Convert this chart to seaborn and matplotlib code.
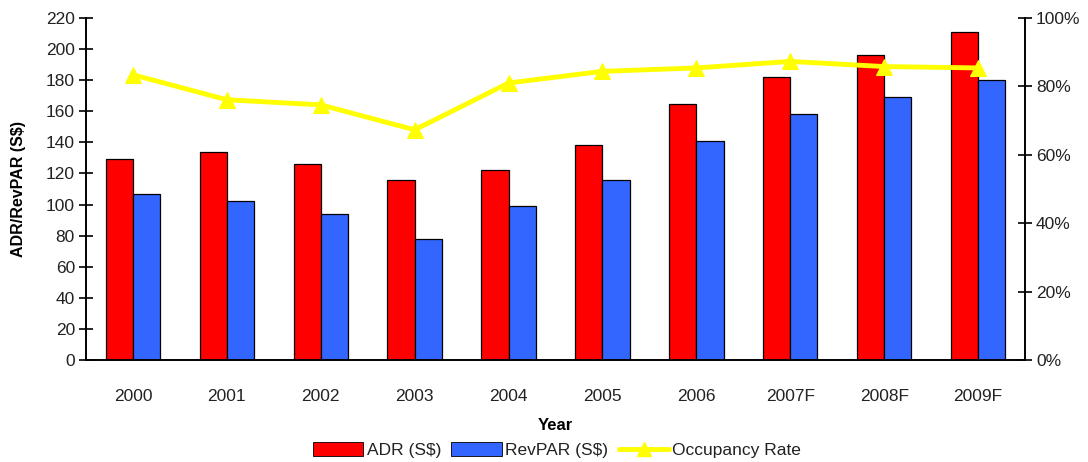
import numpy as np
import pandas as pd
import matplotlib
matplotlib.use("Agg")
import matplotlib.pyplot as plt
import seaborn as sns
from matplotlib.patches import Patch
from matplotlib.lines import Line2D
from matplotlib.ticker import PercentFormatter, FixedLocator

years = ["2000", "2001", "2002", "2003", "2004", "2005", "2006", "2007F", "2008F", "2009F"]
adr = [129, 134, 126, 116, 122, 138, 165, 182, 196, 211]
revpar = [107, 102, 94, 78, 99, 116, 141, 158, 169, 180]
occupancy = [83.4, 76.1, 74.6, 67.3, 81.0, 84.4, 85.4, 87.3, 85.8, 85.4]

series_names = ["ADR (S$)", "RevPAR (S$)"]
bar_colors = ["#FF0000", "#3366FF"]
line_color = "#FFFF00"
text_color = "#222222"

sns.set_theme(style="white")
plt.rcParams["font.family"] = ["Liberation Sans", "DejaVu Sans"]

df = pd.DataFrame({
    "Year": years * 2,
    "Value": adr + revpar,
    "Series": [series_names[0]] * len(years) + [series_names[1]] * len(years),
})

fig = plt.figure(figsize=(10.88, 4.62), dpi=100)
ax = fig.add_axes([86 / 1088, 1 - 360 / 462, (1025 - 86) / 1088, (360 - 18) / 462])

sns.barplot(data=df, x="Year", y="Value", hue="Series", order=years,
            hue_order=series_names, palette=bar_colors, width=0.58,
            edgecolor="black", linewidth=0.9, saturation=1, ax=ax, legend=False)

ax.set_xlim(-0.5, len(years) - 0.5)
ax.set_ylim(0, 220)
ax.set_yticks(np.arange(0, 221, 20))
ax.set_xlabel("Year", fontsize=12, fontweight="bold", labelpad=10, color="black")
ax.set_ylabel("ADR/RevPAR (S$)", fontsize=11.5, fontweight="bold", labelpad=14, color="black")

# category labels centred, tick marks between groups
ax.set_xticks(range(len(years)))
ax.set_xticklabels(years, fontsize=12.5, color=text_color)
ax.xaxis.set_minor_locator(FixedLocator(np.arange(-0.5, len(years), 1.0)))
ax.tick_params(axis="x", which="major", length=0, pad=21)
ax.tick_params(axis="x", which="minor", direction="inout", length=10, width=1.2, color="black")
ax.tick_params(axis="y", direction="inout", length=10, width=1.2, color="black",
               labelsize=12.5, labelcolor=text_color, pad=3, left=True)

for side in ["left", "bottom"]:
    ax.spines[side].set_color("black")
    ax.spines[side].set_linewidth(1.4)
ax.spines["top"].set_visible(False)
ax.spines["right"].set_visible(False)

ax2 = ax.twinx()
sns.lineplot(x=np.arange(len(years)), y=occupancy, ax=ax2, color=line_color,
             linewidth=3.5, marker="^", markersize=11, markeredgecolor=line_color)
ax2.set_ylim(0, 100)
ax2.set_yticks(np.arange(0, 101, 20))
ax2.yaxis.set_major_formatter(PercentFormatter(decimals=0))
ax2.tick_params(axis="y", direction="inout", length=10, width=1.2, color="black",
                labelsize=12.5, labelcolor=text_color, pad=3, right=True)
ax2.spines["right"].set_color("black")
ax2.spines["right"].set_linewidth(1.4)
for side in ["top", "left", "bottom"]:
    ax2.spines[side].set_visible(False)
ax2.set_ylabel("")

handles = [
    Patch(facecolor=bar_colors[0], edgecolor="black", linewidth=0.6),
    Patch(facecolor=bar_colors[1], edgecolor="black", linewidth=0.6),
    Line2D([0], [0], color=line_color, linewidth=3.5, marker="^", markersize=10),
]
fig.legend(handles, series_names + ["Occupancy Rate"], loc="center",
           bbox_to_anchor=(557 / 1088, 1 - 450 / 462), ncol=3, frameon=False,
           fontsize=12.5, handlelength=2.9, handleheight=0.9, handletextpad=0.2,
           columnspacing=0.6, labelcolor=text_color)

fig.savefig("out.png", dpi=100)
